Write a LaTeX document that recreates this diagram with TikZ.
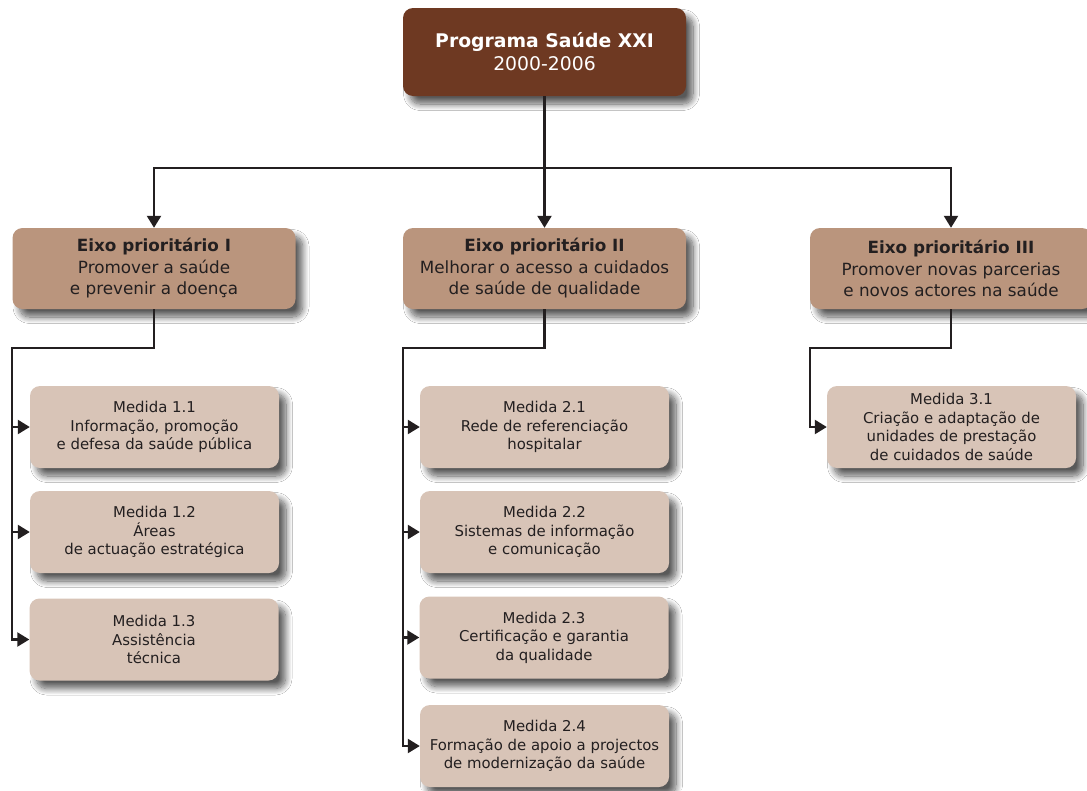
\documentclass[tikz,border=0pt]{standalone}
\usepackage{fontspec}
\setmainfont{DejaVu Sans}
\usetikzlibrary{shadows.blur,arrows.meta}
\definecolor{topc}{HTML}{6E3922}
\definecolor{eixoc}{HTML}{BA957D}
\definecolor{medc}{HTML}{D8C4B7}
\definecolor{ink}{HTML}{231F20}
\tikzset{
  boxbase/.style={rounded corners=10pt, align=center, inner sep=0pt,
    blur shadow={shadow xshift=7pt, shadow yshift=-8pt, shadow blur radius=6.5pt,
      shadow blur steps=12, shadow opacity=65}},
  topbox/.style={boxbase, fill=topc, text=white, minimum width=283pt, minimum height=88pt,
    font=\fontsize{18.8}{23}\selectfont},
  eixobox/.style={boxbase, fill=eixoc, text=ink, minimum width=283pt, minimum height=81pt,
    font=\fontsize{16.8}{21.5}\selectfont},
  medbox/.style={boxbase, fill=medc, text=ink, minimum width=249pt, minimum height=82pt,
    font=\fontsize{14.9}{18.6}\selectfont},
  conn/.style={draw=ink, line width=2.3pt},
  arr/.style={conn, -{Triangle[length=12pt,width=14pt]}},
}
\begin{document}
\begin{tikzpicture}[x=1pt,y=-1pt]
\useasboundingbox (0,0) rectangle (1087,790);
\fill[white] (0,0) rectangle (1087,790);
\node[topbox] (top) at (544.5,52) {\textbf{Programa Saúde XXI}\\2000-2006};
\node[eixobox] (e1) at (154,268.5) {\textbf{Eixo prioritário I}\\Promover a saúde\\e prevenir a doença};
\node[eixobox] (e2) at (544.5,268.5) {\textbf{Eixo prioritário II}\\Melhorar o acesso a cuidados\\de saúde de qualidade};
\node[eixobox, minimum width=282pt] (e3) at (951,268.5) {\textbf{Eixo prioritário III}\\Promover novas parcerias\\e novos actores na saúde};

\node[medbox] (m11) at (154.5,427) {Medida 1.1\\Informação, promoção\\e defesa da saúde pública};
\node[medbox] (m12) at (154.5,532) {Medida 1.2\\Áreas\\de actuação estratégica};
\node[medbox] (m13) at (154,639.5) {Medida 1.3\\Assistência\\técnica};

\node[medbox] (m21) at (544.5,427) {Medida 2.1\\Rede de referenciação\\hospitalar};
\node[medbox] (m22) at (544.5,532) {Medida 2.2\\Sistemas de informação\\e comunicação};
\node[medbox] (m23) at (544,637.5) {Medida 2.3\\Certificação e garantia\\da qualidade};
\node[medbox] (m24) at (544.5,746) {Medida 2.4\\Formação de apoio a projectos\\de modernização da saúde};

\node[medbox] (m31) at (951.5,427) {Medida 3.1\\Criação e adaptação de\\unidades de prestação\\de cuidados de saúde};

% top level
\coordinate (hb) at (544.5,168);
\draw[conn] (top.south) -- (hb);
\draw[arr] (hb) -| (e1.north);
\draw[arr] (hb) -- (e2.north);
\draw[arr] (hb) -| (e3.north);

% branch I
\coordinate (t1) at (12,348);
\draw[arr] (e1.south) |- (t1) |- (m13.west);
\draw[arr] (t1 |- m11.west) -- (m11.west);
\draw[arr] (t1 |- m12.west) -- (m12.west);

% branch II
\coordinate (t2) at (403,348);
\draw[arr] (e2.south) |- (t2) |- (m24.west);
\draw[arr] (t2 |- m21.west) -- (m21.west);
\draw[arr] (t2 |- m22.west) -- (m22.west);
\draw[arr] (t2 |- m23.west) -- (m23.west);

% branch III
\coordinate (t3) at (810,348);
\draw[arr] (e3.south) |- (t3) |- (m31.west);
\end{tikzpicture}
\end{document}
